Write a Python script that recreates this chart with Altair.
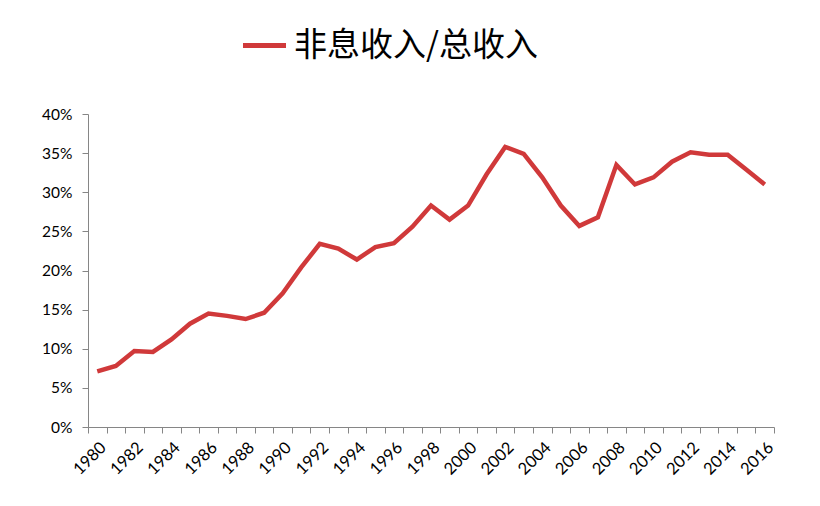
import altair as alt
import pandas as pd

years = list(range(1980, 2017))
ratio = [7.1, 7.8, 9.7, 9.6, 11.2, 13.2, 14.5, 14.2, 13.8, 14.6,
         17.1, 20.4, 23.4, 22.8, 21.4, 23.0, 23.5, 25.6, 28.3, 26.5,
         28.3, 32.3, 35.8, 34.9, 31.9, 28.3, 25.7, 26.8, 33.5, 31.0,
         31.9, 33.9, 35.1, 34.8, 34.8, 32.9, 31.0]
series_name = "非息收入/总收入"

df = pd.DataFrame({
    "year": [str(y) for y in years],
    "value": [v / 100 for v in ratio],
    "series": [series_name] * len(years),
})

label_font = "Lato"

chart = alt.Chart(df).mark_line(strokeWidth=4.5, color="#D0393A").encode(
    x=alt.X("year:O", bandPosition=0.5,
            scale=alt.Scale(type="band", paddingInner=0, paddingOuter=0),
            axis=alt.Axis(title=None, tickBand="extent", labelAngle=-45,
                          labelExpr="parseInt(datum.value) % 2 == 0 ? datum.value : ''",
                          labelFontSize=16.5, labelColor="#000", labelFont=label_font,
                          domainColor="#868686", tickColor="#868686", tickSize=6,
                          labelPadding=6, grid=False)),
    y=alt.Y("value:Q",
            scale=alt.Scale(domain=[0, 0.4], nice=False),
            axis=alt.Axis(title=None, format=".0%", values=[i * 0.05 for i in range(9)],
                          labelFontSize=15.5, labelColor="#000", labelFont=label_font,
                          domainColor="#868686", tickColor="#868686", tickSize=6,
                          labelPadding=10, grid=False)),
    stroke=alt.Stroke("series:N",
                      scale=alt.Scale(range=["#D0393A"]),
                      legend=alt.Legend(title=None, orient="none", legendX=152, legendY=-93,
                                        symbolType="stroke", symbolSize=1850,
                                        symbolStrokeWidth=5, labelFontSize=33,
                                        labelFont="Noto Sans CJK SC", labelColor="#000",
                                        labelLimit=400, labelOffset=5)),
).properties(
    width=686, height=313,
    padding={"left": 80, "top": 106, "right": 38, "bottom": 71},
    autosize=alt.AutoSizeParams(type="none"),
).configure_view(stroke=None)

chart.save("out.html", embed_options={"renderer": "svg", "actions": False})
